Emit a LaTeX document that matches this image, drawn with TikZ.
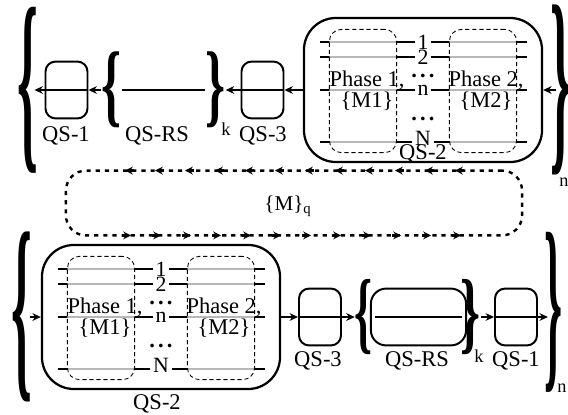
\documentclass[tikz,border=0pt]{standalone}
\usepackage{fontspec}
\setmainfont{Liberation Serif}
\usepackage{graphicx}
\usetikzlibrary{arrows.meta,positioning}
% stretched bold brace glyph: width, total height, glyph
\newcommand{\BraceGlyph}[3]{\resizebox*{#1}{#2}{\bfseries#3}}
\newcommand{\Dots}{\textbf{.\hspace{2.2pt}.\hspace{2.2pt}.}}
% queue system QS-2 with its two phases: centre, name
\newcommand{\QSTwo}[2]{%
  \begin{scope}[shift={#1}]
    \foreach \ly in {-48,-33,0,52}
      \draw[line width=0.9pt] (-103,\ly) -- (104,\ly);
    \node[phasebox] (#2a) at (-60,1) {};
    \node[phasebox] (#2b) at (60,1) {};
    \node[bigbox] (#2) at (0,0) {};
    \node[idx] (#2i1) at (0,-48) {1};
    \node[idx] (#2i2) at (0,-33) {2};
    \node[idx] (#2in) at (0,0) {n};
    \node[idx] (#2iN) at (0,48) {N};
    \node[qslabel] (#2d1) at (0,-14) {\Dots};
    \node[qslabel] (#2d2) at (0,29) {\Dots};
    \node[phasetext] (#2t1) at (-56,1) {Phase 1,\\\{M1\}};
    \node[phasetext] (#2t2) at (63,1) {Phase 2,\\\{M2\}};
  \end{scope}}

\begin{document}
\begin{tikzpicture}[x=0.025cm,y=-0.025cm,
  flow/.style={-{Stealth[length=6pt,width=5.5pt]},line width=1.5pt},
  qsbox/.style={draw,line width=1.4pt,rounded corners=0.25cm,minimum width=1.05cm,minimum height=1.42cm,inner sep=0pt},
  rsbox/.style={qsbox,rounded corners=0.38cm,minimum width=2.38cm},
  bigbox/.style={draw,line width=1.6pt,rounded corners=0.8cm,minimum width=5.95cm,minimum height=3.6cm,inner sep=0pt},
  phasebox/.style={draw,dash pattern=on 3pt off 2pt,line width=0.6pt,rounded corners=0.3cm,fill=white,fill opacity=0.72,minimum width=1.68cm,minimum height=3.08cm,inner sep=0pt},
  loopbox/.style={draw,line width=1.7pt,dash pattern=on 3pt off 3.5pt,rounded corners=0.5cm,minimum width=11.4cm,minimum height=1.62cm,inner sep=0pt},
  loopmark/.style={-{Stealth[length=5.5pt,width=5.5pt]},line width=1.7pt},
  bracenode/.style={inner sep=0pt},
  qslabel/.style={font=\fontsize{16}{18}\selectfont,inner sep=0pt},
  idx/.style={font=\fontsize{15.5}{16}\selectfont,fill=white,inner xsep=2pt,inner ysep=0pt},
  phasetext/.style={font=\fontsize{16}{15}\selectfont,align=center,inner sep=0pt},
  subtext/.style={font=\fontsize{13}{13}\selectfont,inner sep=0pt}]
\useasboundingbox (0,0) rectangle (568,415);

% top row, right to left
\node[bracenode] (bigLt) at (28,90) {\BraceGlyph{0.52cm}{4.15cm}{\{}};
\node[qsbox] (qs1t) at (66.5,90) {};
\node[bracenode] (rsLt) at (111.5,90) {\BraceGlyph{0.5cm}{1.9cm}{\{}};
\node[bracenode] (rsRt) at (215.5,90) {\BraceGlyph{0.5cm}{1.9cm}{\}}};
\node[qsbox] (qs3t) at (262.5,90) {};
\QSTwo{(423,90)}{qs2t}
\node[bracenode] (bigRt) at (561,90) {\BraceGlyph{0.52cm}{4.25cm}{\}}};

\draw[line width=1.3pt] (qs1t.west) -- (qs1t.east);
\draw[line width=1.3pt] (qs3t.west) -- (qs3t.east);
\draw[line width=1.3pt] (rsLt) -- (rsRt);

\draw[flow,shorten <=-4pt] (bigRt.west |- qs2t) -- (qs2t);
\draw[flow] (qs2t) -- (qs3t);
\draw[flow] (qs3t) -- (rsRt);
\draw[flow] (rsLt) -- (qs1t);
\draw[flow,shorten >=-3pt] (qs1t) -- (qs1t -| bigLt.east);

\node[qslabel] (l1t) at (66,136) {QS-1};
\node[qslabel] (lrst) at (157,136) {QS-RS};
\node[subtext] (kt) at (226,129) {k};
\node[qslabel] (l3t) at (263,136) {QS-3};
\node[qslabel] (l2t) at (423,154) {QS-2};
\node[subtext] (nt) at (564,182) {n};

% loop between the two rows
\node[loopbox] (mq) at (294,203) {};
\node[font=\fontsize{15}{15}\selectfont,inner sep=0pt] (mqtext) at (288,206) {\{M\}\textsubscript{q}};
\foreach \mx in {128,158,...,458}{
  \draw[loopmark] ({\mx+6},170.6) -- ({\mx-3},170.6);
  \draw[loopmark] ({\mx-6},235.4) -- ({\mx+3},235.4);
}

% bottom row, left to right
\node[bracenode] (bigLb) at (22,317) {\BraceGlyph{0.52cm}{4.25cm}{\{}};
\QSTwo{(161,317)}{qs2b}
\node[qsbox] (qs3b) at (320,317) {};
\node[bracenode] (rsLb) at (364,317) {\BraceGlyph{0.45cm}{1.88cm}{\{}};
\node[rsbox] (rsb) at (418.5,317) {};
\node[bracenode] (rsRb) at (470.5,317) {\BraceGlyph{0.5cm}{1.88cm}{\}}};
\node[qsbox] (qs1b) at (516,317) {};
\node[bracenode] (bigRb) at (553,312) {\BraceGlyph{0.45cm}{4.0cm}{\}}};

\draw[line width=1.3pt] (qs3b.west) -- (qs3b.east);
\draw[line width=1.3pt] (qs1b.west) -- (qs1b.east);
\draw[line width=1.3pt] ([xshift=0.12cm]rsb.west) -- ([xshift=-0.12cm]rsb.east);

\draw[flow,shorten <=-2pt] (bigLb.east |- qs2b) -- (qs2b);
\draw[flow] (qs2b) -- (qs3b);
\draw[flow] (qs3b) -- (rsLb);
\draw[flow] (rsRb) -- (qs1b);
\draw[flow,shorten >=-3pt] (qs1b) -- (qs1b -| bigRb.west);

\node[qslabel] (l2b) at (157,404) {QS-2};
\node[qslabel] (l3b) at (318,361) {QS-3};
\node[qslabel] (lrsb) at (417,361) {QS-RS};
\node[subtext] (kb) at (479,356) {k};
\node[qslabel] (l1b) at (516,361) {QS-1};
\node[subtext] (nb) at (562,388) {n};
\end{tikzpicture}
\end{document}
